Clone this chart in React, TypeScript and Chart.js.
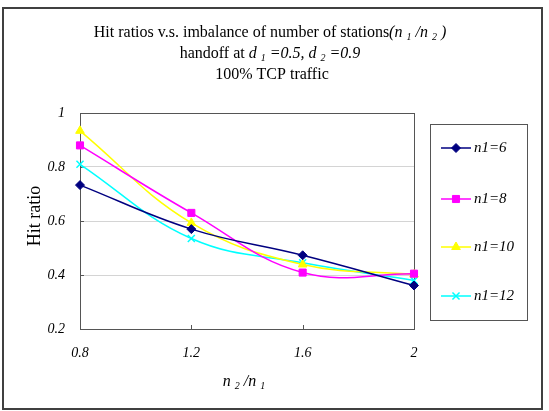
import React, { useEffect, useRef } from "react";
import { Chart, registerables } from "chart.js";
import { drawPoint } from "chart.js/helpers";

Chart.register(...registerables);

// Ratio n2/n1 on the horizontal axis
const ratios = [0.8, 1.2, 1.6, 2];
const xTicks = [0.8, 1.2, 1.6, 2];
const yTicks = [0.2, 0.4, 0.6, 0.8, 1];

// Hit ratio for each number of stations n1
const hitN6 = [0.733, 0.57, 0.473, 0.361];
const hitN8 = [0.88, 0.63, 0.409, 0.405];
const hitN10 = [0.934, 0.593, 0.439, 0.402];
const hitN12 = [0.81, 0.535, 0.445, 0.38];

const seriesLabels = ["n1=6", "n1=8", "n1=10", "n1=12"];
const seriesValues = [hitN6, hitN8, hitN10, hitN12];
const seriesColors = ["#000080", "#FF00FF", "#FFFF00", "#00FFFF"];
const seriesMarkers = ["rectRot", "rect", "triangle", "crossRot"];

const SERIF = "'Liberation Serif', 'Times New Roman', serif";

type Seg = { t: string; italic?: boolean; sub?: boolean };

function drawRich(ctx: CanvasRenderingContext2D, segs: Seg[], cx: number, cy: number, size: number) {
  const subSize = Math.round(size * 0.65);
  const fontFor = (s: Seg) => `${s.italic ? "italic " : ""}${s.sub ? subSize : size}px ${SERIF}`;
  let total = 0;
  for (const s of segs) {
    ctx.font = fontFor(s);
    total += ctx.measureText(s.t).width;
  }
  let x = cx - total / 2;
  ctx.textBaseline = "middle";
  ctx.textAlign = "left";
  for (const s of segs) {
    ctx.font = fontFor(s);
    ctx.fillText(s.t, x, s.sub ? cy + size * 0.3 : cy);
    x += ctx.measureText(s.t).width;
  }
}

const decorPlugin = {
  id: "decor",
  beforeDatasetsDraw(chart: any) {
    const { ctx, chartArea } = chart;
    const xs = chart.scales.x;
    const ys = chart.scales.y;
    ctx.save();
    // plot area frame
    ctx.strokeStyle = "#555555";
    ctx.lineWidth = 1;
    ctx.strokeRect(
      Math.round(chartArea.left) + 0.5,
      Math.round(chartArea.top) + 0.5,
      Math.round(chartArea.right - chartArea.left),
      Math.round(chartArea.bottom - chartArea.top)
    );
    // inner tick marks on both axes
    ctx.strokeStyle = "#555555";
    for (const v of xTicks) {
      const px = Math.round(xs.getPixelForValue(v)) + 0.5;
      ctx.beginPath();
      ctx.moveTo(px, chartArea.bottom);
      ctx.lineTo(px, chartArea.bottom - 4);
      ctx.stroke();
    }
    for (const v of yTicks) {
      const py = Math.round(ys.getPixelForValue(v)) + 0.5;
      ctx.beginPath();
      ctx.moveTo(chartArea.left, py);
      ctx.lineTo(chartArea.left + 4, py);
      ctx.stroke();
    }
    ctx.restore();
  },
  afterDraw(chart: any) {
    const { ctx, width, height, chartArea } = chart;
    ctx.save();
    // outer frame
    ctx.strokeStyle = "#404040";
    ctx.lineWidth = 2;
    ctx.strokeRect(3, 8, width - 10, height - 10);

    ctx.fillStyle = "#000000";
    // titles
    drawRich(ctx, [
      { t: "Hit ratios v.s. imbalance of number of stations" },
      { t: "(n ", italic: true },
      { t: "1", italic: true, sub: true },
      { t: " /n ", italic: true },
      { t: "2", italic: true, sub: true },
      { t: " )", italic: true },
    ], 270, 33, 16);
    drawRich(ctx, [
      { t: "handoff at " },
      { t: "d ", italic: true },
      { t: "1", italic: true, sub: true },
      { t: " =0.5, d ", italic: true },
      { t: "2", italic: true, sub: true },
      { t: " =0.9", italic: true },
    ], 270, 54, 16);
    drawRich(ctx, [{ t: "100% TCP traffic" }], 272, 75, 16);

    // x axis title
    drawRich(ctx, [
      { t: "n ", italic: true },
      { t: "2", italic: true, sub: true },
      { t: " /n ", italic: true },
      { t: "1", italic: true, sub: true },
    ], 244, 382, 16);

    // y axis title
    ctx.save();
    ctx.translate(35, 216);
    ctx.rotate(-Math.PI / 2);
    drawRich(ctx, [{ t: "Hit ratio" }], 0, 0, 18);
    ctx.restore();

    // legend box
    const bx = 430, by = 124, bw = 97, bh = 196;
    ctx.strokeStyle = "#555555";
    ctx.lineWidth = 1;
    ctx.strokeRect(bx + 0.5, by + 0.5, bw, bh);
    const rows = [148, 199, 247, 296];
    chart.data.datasets.forEach((ds: any, i: number) => {
      const y = rows[i];
      ctx.strokeStyle = ds.borderColor;
      ctx.lineWidth = 1.5;
      ctx.beginPath();
      ctx.moveTo(441, y);
      ctx.lineTo(471, y);
      ctx.stroke();
      ctx.fillStyle = ds.pointBackgroundColor;
      ctx.strokeStyle = ds.pointBorderColor;
      ctx.lineWidth = ds.pointBorderWidth;
      drawPoint(ctx, { pointStyle: ds.pointStyle, radius: ds.pointRadius, borderWidth: ds.pointBorderWidth, rotation: 0 } as any, 456, y);
      ctx.fillStyle = "#000000";
      ctx.font = `italic 15px ${SERIF}`;
      ctx.textAlign = "left";
      ctx.textBaseline = "middle";
      ctx.fillText(ds.label, 474, y);
    });
    ctx.restore();
  },
};

export default function App() {
  const ref = useRef<HTMLCanvasElement | null>(null);

  useEffect(() => {
    document.body.style.margin = "0";
    const canvas = ref.current!;
    const chart = new Chart(canvas, {
      type: "line",
      data: {
        datasets: seriesLabels.map((label, i) => ({
          label,
          data: ratios.map((r, j) => ({ x: r, y: seriesValues[i][j] })),
          borderColor: seriesColors[i],
          backgroundColor: seriesColors[i],
          pointBackgroundColor: seriesColors[i],
          pointBorderColor: seriesColors[i],
          pointBorderWidth: i === 3 ? 1.5 : 1,
          pointStyle: seriesMarkers[i] as any,
          pointRadius: i === 0 ? 4.5 : 5,
          borderWidth: 1.5,
          tension: 0.4,
          fill: false,
          clip: false as any,
        })),
      },
      options: {
        animation: false,
        responsive: false,
        events: [],
        layout: { padding: { left: 0, right: 135, top: 113, bottom: 0 } },
        plugins: { legend: { display: false }, title: { display: false }, tooltip: { enabled: false } },
        scales: {
          x: {
            type: "linear",
            min: 0.8,
            max: 2,
            afterBuildTicks: (s: any) => {
              s.ticks = xTicks.map((v) => ({ value: v }));
            },
            afterFit: (s: any) => {
              s.height = 82;
            },
            grid: { display: false, drawTicks: false },
            border: { display: false },
            ticks: {
              padding: 16,
              color: "#000000",
              font: { family: SERIF, size: 14, style: "italic" },
              callback: (v: any) => String(Math.round(Number(v) * 10) / 10),
            },
          },
          y: {
            min: 0.2,
            max: 1,
            afterBuildTicks: (s: any) => {
              s.ticks = yTicks.map((v) => ({ value: v }));
            },
            afterFit: (s: any) => {
              s.width = 80;
            },
            grid: {
              drawTicks: false,
              color: (c: any) => (c.tick && (c.tick.value <= 0.2 || c.tick.value >= 1) ? "rgba(0,0,0,0)" : "#d4d4d4"),
            },
            border: { display: false },
            ticks: {
              padding: 15,
              color: "#000000",
              font: { family: SERIF, size: 14, style: "italic" },
              callback: (v: any) => String(Math.round(Number(v) * 10) / 10),
            },
          },
        },
      },
      plugins: [decorPlugin],
    });
    return () => chart.destroy();
  }, []);

  return (
    <div style={{ position: "fixed", left: 0, top: 0, width: 549, height: 411, background: "#ffffff" }}>
      <canvas ref={ref} width={549} height={411} style={{ display: "block", width: 549, height: 411 }} />
    </div>
  );
}
